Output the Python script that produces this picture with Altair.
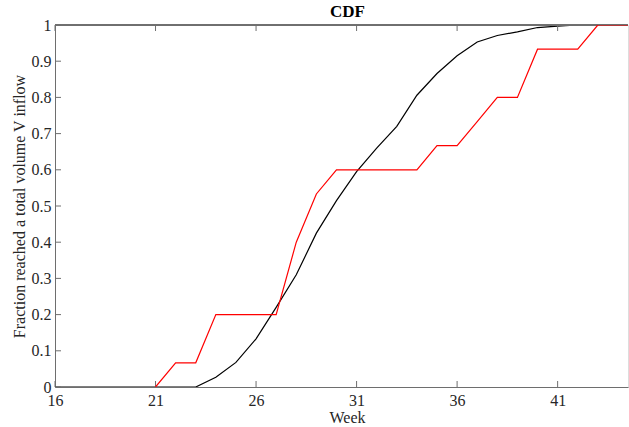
import altair as alt
import pandas as pd

# Data
black_weeks = list(range(16, 44))
black_vals = [0, 0, 0, 0, 0, 0, 0, 0, 0.027, 0.068, 0.133, 0.22, 0.31, 0.425,
              0.515, 0.595, 0.66, 0.72, 0.806, 0.866, 0.915, 0.953, 0.971,
              0.981, 0.993, 0.997, 1.0, 1.0]
red_weeks = list(range(21, 46))
red_vals = [0, 0.0667, 0.0667, 0.2, 0.2, 0.2, 0.2, 0.4, 0.5333, 0.6, 0.6, 0.6,
            0.6, 0.6, 0.6667, 0.6667, 0.7333, 0.8, 0.8, 0.9333, 0.9333, 0.9333,
            1.0, 1.0, 1.0]
x_ticks = [16, 21, 26, 31, 36, 41]
y_ticks = [0, 0.1, 0.2, 0.3, 0.4, 0.5, 0.6, 0.7, 0.8, 0.9, 1.0]

W, H = 573, 362
FONT = "Liberation Serif"
AXIS_COL = "#6e6e6e"
LABEL_COL = "#262626"

black_df = pd.DataFrame({"week": black_weeks, "frac": black_vals})
red_df = pd.DataFrame({"week": red_weeks, "frac": red_vals})
xt_df = pd.DataFrame({"week": x_ticks})
yt_df = pd.DataFrame({"frac": y_ticks})

xscale = alt.Scale(domain=[16, 44.5], nice=False, zero=False)
yscale = alt.Scale(domain=[0, 1], nice=False)

xaxis = alt.Axis(values=x_ticks, format="d", tickSize=0, labelPadding=5,
                 labelFlush=False, labelOverlap=False,
                 labelFont=FONT, labelFontSize=16, labelColor=LABEL_COL,
                 domainColor=AXIS_COL, domainWidth=1, grid=False,
                 title="Week", titleFont=FONT, titleFontSize=16,
                 titleFontWeight="normal", titleColor=LABEL_COL,
                 titleX=292, titleY=22, titleBaseline="top")
yaxis = alt.Axis(values=y_ticks,
                 labelExpr="datum.value == 0 ? '0' : datum.value == 1 ? '1' : format(datum.value, '.1f')",
                 tickSize=0, labelPadding=4, labelFlush=False, labelOverlap=False,
                 labelFont=FONT, labelFontSize=16, labelColor=LABEL_COL,
                 domainColor=AXIS_COL, domainWidth=1, grid=False,
                 title="Fraction reached a total volume V inflow",
                 titleFont=FONT, titleFontSize=16, titleFontWeight="normal",
                 titleColor=LABEL_COL, titleX=-28, titleY=181,
                 titleAngle=-90, titleBaseline="bottom", titleAlign="center")

X = alt.X("week:Q", scale=xscale, axis=xaxis, title="Week")
Y = alt.Y("frac:Q", scale=yscale, axis=yaxis,
          title="Fraction reached a total volume V inflow")

black_line = alt.Chart(black_df).mark_line(color="black", strokeWidth=1.2, clip=True).encode(
    x=X, y=Y,
)
red_line = alt.Chart(red_df).mark_line(color="#ff0000", strokeWidth=1.2, clip=True).encode(
    x=X, y=Y,
)

top_border = alt.Chart(xt_df).mark_rule(color=AXIS_COL, strokeWidth=1).encode(
    x=alt.value(0), x2=alt.value(W), y=alt.value(0)
)
bottom_ticks = alt.Chart(xt_df).mark_rule(color=AXIS_COL, strokeWidth=1).encode(
    x=X, y=alt.value(H), y2=alt.value(H - 6)
)
top_ticks = alt.Chart(xt_df).mark_rule(color=AXIS_COL, strokeWidth=1).encode(
    x=X, y=alt.value(0), y2=alt.value(6)
)
left_ticks = alt.Chart(yt_df).mark_rule(color=AXIS_COL, strokeWidth=1).encode(
    y=Y, x=alt.value(0), x2=alt.value(6)
)

chart = alt.layer(
    black_line, top_border, bottom_ticks, top_ticks, left_ticks, red_line
).properties(
    width=W, height=H,
    title=alt.TitleParams("CDF", font=FONT, fontSize=17, fontWeight="bold",
                          color="black", anchor="middle", dx=6, dy=20, offset=3,
                          baseline="alphabetic"),
    autosize=alt.AutoSizeParams(type="none"),
    padding={"left": 55, "top": 25, "right": 1, "bottom": 40},
).configure_view(stroke=None).configure(background="white")

chart.save("out.html", embed_options={"renderer": "svg", "actions": False})
